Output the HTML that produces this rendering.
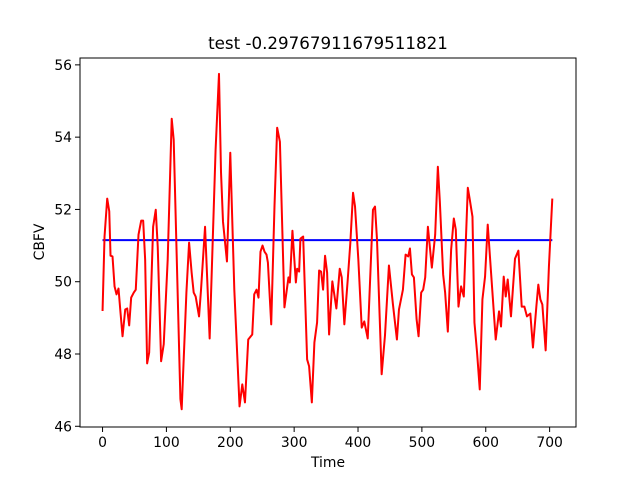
<!DOCTYPE html>
<html><head><meta charset="utf-8"><style>
html,body{margin:0;padding:0;background:#fff;}
svg{display:block;font-family:"DejaVu Sans","Liberation Sans",sans-serif;}
</style></head><body>
<svg id="chart" width="640" height="480" viewBox="0 0 640 480" xmlns="http://www.w3.org/2000/svg">
<rect x="0" y="0" width="640" height="480" fill="#fff"/>
<text x="328" y="49" text-anchor="middle" font-size="16.7" fill="#000">test -0.29767911679511821</text>
<g id="plot"></g>
<text x="328" y="467" text-anchor="middle" font-size="13.9" fill="#000">Time</text>
<text x="0" y="0" transform="translate(44,242) rotate(-90)" text-anchor="middle" font-size="13.9" fill="#000">CBFV</text>
</svg>
<script>
const timeValues=[0,3.1,7.3,10.5,12.5,15.6,18.8,21.9,25,28.1,31.3,35.5,38.6,41.7,44.8,48.9,52,56.3,60.5,63.6,66.7,69.8,73,79.2,83.3,86.4,91.7,95.8,102,108.3,111.4,121.9,123.9,131.3,135.5,139.5,142.7,145.8,151.1,154.2,160.5,167.7,177,182.3,185.5,188.6,194.8,200,206.3,214.5,218.8,223,228.1,234.4,237.5,241.1,244.2,247.3,250.5,253.6,256.7,258.9,264.1,269.2,273.4,277.7,284.8,291.1,293.3,297.3,302.7,304.7,307.8,309.8,314.1,320.3,323.4,327.7,331.7,335.9,339.1,342.2,345.3,348.4,351.6,354.7,359.8,366.1,371.4,374.5,378.6,383.9,388,392.2,395.3,400.5,405.8,409.8,415.2,423.4,426.6,429.7,437,442.2,448.4,454.7,460.9,464.1,470.3,474.5,478.6,481.3,484.4,487.5,491.7,494.8,498.9,502,505.2,509.4,515.6,520.8,525,528.1,533.3,536.4,540.6,545.8,550,553.1,557.3,561.4,565.6,571.9,575,579.2,582.3,586.4,590.6,594.8,598.9,603.1,608.3,615.6,620.8,623.9,628.1,631.3,634.4,639.5,645.8,651.1,656.3,660.5,664.5,669.8,673.9,679.2,682.3,685.5,688.6,693.8,698.9,704.2];
const cbfvValues=[49.19,51.25,52.3,51.95,50.72,50.7,49.87,49.65,49.81,49.15,48.49,49.23,49.26,48.79,49.56,49.7,49.78,51.3,51.69,51.69,50.61,47.74,48.04,51.52,51.99,50.97,47.8,48.27,50.61,54.51,53.93,46.75,46.47,49.7,51.08,50.25,49.7,49.59,49.04,49.78,51.52,48.43,53.65,55.75,53.02,51.66,50.56,53.57,49.78,46.55,47.16,46.66,48.4,48.54,49.65,49.78,49.56,50.83,51,50.83,50.75,50.53,48.82,52.08,54.26,53.87,49.29,50.12,49.98,51.41,49.98,50.36,50.28,51.19,51.25,47.85,47.66,46.66,48.32,48.87,50.31,50.28,49.78,50.72,50.25,48.54,50.01,49.26,50.36,50.12,48.82,50.06,51.08,52.46,52.08,50.61,48.73,48.9,48.43,51.99,52.08,51.17,47.44,48.51,50.45,49.37,48.4,49.23,49.78,50.75,50.7,50.92,50.2,50.12,48.96,48.49,49.7,49.78,50.12,51.52,50.39,51.3,53.18,52.22,50.2,49.7,48.62,50.89,51.75,51.44,49.31,49.87,49.59,52.6,52.27,51.8,48.87,48.04,47.02,49.51,50.14,51.58,50.25,48.4,49.18,48.76,50.14,49.59,50.06,49.04,50.64,50.86,49.31,49.31,49.04,49.12,48.18,49.31,49.92,49.51,49.37,48.1,50.42,52.3];
const meanValue=51.15;
const meanStart=0, meanEnd=704.2;
const xTicks=[0,100,200,300,400,500,600,700];
const yTicks=[46,48,50,52,54,56];

const L=80,R=576,T=58,B=427;
const xMin=-35.3,xMax=741.3,yMin=45.98,yMax=56.19;
const xs=v=>L+(v-xMin)/(xMax-xMin)*(R-L);
const ys=v=>B-(v-yMin)/(yMax-yMin)*(B-T);
const NS='http://www.w3.org/2000/svg';
const plot=document.getElementById('plot');
function mk(tag,attrs){const e=document.createElementNS(NS,tag);for(const k in attrs)e.setAttribute(k,attrs[k]);return e;}

// mean line (blue)
const ml=mk('line',{x1:xs(meanStart),x2:xs(meanEnd),y1:ys(meanValue),y2:ys(meanValue),stroke:'#0000ff','stroke-width':2});


plot.appendChild(ml);

// CBFV series
let d='';
for(let i=0;i<timeValues.length;i++){d+=(i?'L':'M')+xs(timeValues[i]).toFixed(2)+','+ys(cbfvValues[i]).toFixed(2);}
const pl=mk('path',{d:d,fill:'none',stroke:'#ff0000','stroke-width':2,'stroke-linejoin':'round'});


plot.appendChild(pl);

// frame
const fr=mk('rect',{x:L,y:T,width:R-L,height:B-T,fill:'none',stroke:'#000','stroke-width':1});


plot.appendChild(fr);

xTicks.forEach(t=>{
  const x=xs(t);
  const tk=mk('line',{x1:x,x2:x,y1:B,y2:B+5,stroke:'#000','stroke-width':1});
  
  
  plot.appendChild(tk);
  const tx=mk('text',{x:x,y:B+20,'text-anchor':'middle','font-size':13.9,fill:'#000'});
  tx.textContent=t;
  
  
  plot.appendChild(tx);
});
yTicks.forEach(t=>{
  const y=ys(t);
  const tk=mk('line',{x1:L-5,x2:L,y1:y,y2:y,stroke:'#000','stroke-width':1});
  
  
  plot.appendChild(tk);
  const tx=mk('text',{x:L-8,y:y+5,'text-anchor':'end','font-size':13.9,fill:'#000'});
  tx.textContent=t;
  
  
  plot.appendChild(tx);
});
</script>
</body></html>
